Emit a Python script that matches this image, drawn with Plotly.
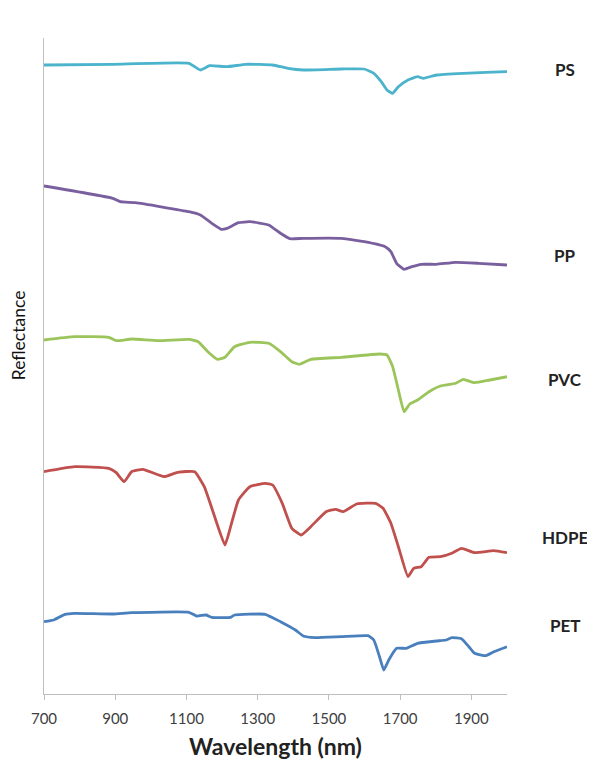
import plotly.graph_objects as go

# Wavelength (nm) and reflectance (arbitrary, offset units)
ps_nm = [700, 893, 1107, 1139, 1165, 1214, 1267, 1342, 1385, 1428, 1535, 1599, 1626, 1647,
         1663, 1679, 1695, 1722, 1749, 1765, 1802, 1877, 1941, 2000]
ps_r = [629, 629.7, 630.7, 624, 628.3, 627.3, 629.7, 629, 625.7, 624, 625, 625, 620.7, 612.3,
        604, 600.7, 607.3, 614, 617.3, 615.7, 619, 620.7, 621.7, 622.3]

pp_nm = [700, 893, 914, 957, 1107, 1139, 1171, 1198, 1214, 1246, 1278, 1331, 1364, 1390,
         1428, 1535, 1599, 1658, 1674, 1690, 1711, 1733, 1759, 1802, 1856, 1920, 2000]
pp_r = [508, 495.7, 492.3, 491.3, 482.3, 479, 470.7, 464.7, 465.7, 471.3, 472.3, 469, 460.7,
        455.3, 455.7, 455.7, 452.3, 447.3, 442.3, 430.7, 424.7, 427.3, 429.7, 429.7, 431.7,
        430.7, 429]

pvc_nm = [700, 786, 882, 903, 946, 1021, 1107, 1133, 1160, 1187, 1208, 1235, 1278, 1331,
          1364, 1396, 1417, 1449, 1535, 1642, 1663, 1679, 1695, 1711, 1727, 1749, 1781,
          1813, 1856, 1877, 1909, 1952, 2000]
pvc_r = [354, 357.3, 356.7, 353.3, 355, 353.3, 354.7, 352.3, 342.3, 334.7, 336.7, 347.3,
         351.7, 350.7, 342.3, 332.3, 329.7, 334.7, 336.7, 340, 339, 327.3, 304, 282.3, 290,
         294, 302.3, 308, 310.7, 314.7, 311.3, 314, 317.3]

hdpe_nm = [700, 786, 882, 903, 925, 946, 978, 1037, 1075, 1123, 1150, 1176, 1208, 1224,
           1246, 1278, 1321, 1342, 1369, 1396, 1422, 1449, 1492, 1519, 1540, 1578, 1631,
           1652, 1674, 1695, 1722, 1738, 1759, 1781, 1813, 1845, 1872, 1909, 1963, 2000]
hdpe_r = [222.3, 227.3, 225.7, 221.3, 212.3, 222.3, 224.7, 217.3, 221.7, 222.3, 207.3, 180.7,
          149, 167.3, 194, 207.3, 210.7, 209, 190.7, 165.7, 159, 167.3, 182.3, 184.7, 182.3,
          190, 190.7, 185.7, 170.7, 147.3, 117.3, 125.7, 127.3, 136.7, 137.3, 140.7, 145.7,
          141.3, 143.3, 141.3]

pet_nm = [700, 727, 759, 786, 893, 946, 1107, 1128, 1155, 1171, 1224, 1235, 1321, 1364,
          1406, 1428, 1460, 1535, 1610, 1626, 1642, 1654, 1668, 1690, 1717, 1749, 1802,
          1829, 1845, 1872, 1893, 1909, 1941, 1963, 2000]
pet_r = [72.3, 74, 79.7, 80.7, 80, 81.3, 81.7, 78, 79, 76.7, 76.7, 79, 79.7, 72.3, 64, 58,
         56.3, 57.3, 58.3, 54, 37.3, 24, 34, 45.7, 45.7, 50.7, 53, 54, 56.3, 55.3, 47.3,
         40.7, 38.3, 42.3, 47.3]

series = [
    ("PS", ps_nm, ps_r, "#4bb3cc"),
    ("PP", pp_nm, pp_r, "#7a5f9e"),
    ("PVC", pvc_nm, pvc_r, "#9bc45a"),
    ("HDPE", hdpe_nm, hdpe_r, "#c0504d"),
    ("PET", pet_nm, pet_r, "#4a7fbd"),
]
label_y = [625, 439, 315, 157, 69]

tick_vals = [700, 900, 1100, 1300, 1500, 1700, 1900]
tick_text = ["700", "900", "1100", "1300", "1500", "1700", "1900"]

FONT = "Lato"

fig = go.Figure()
for (name, xs, ys, col) in series:
    fig.add_trace(go.Scatter(x=xs, y=ys, mode="lines", name=name,
                             line=dict(color=col, width=2.8, shape="spline", smoothing=0.4),
                             showlegend=False))

for (name, _, _, _), ly in zip(series, label_y):
    fig.add_annotation(x=1.126, xref="paper", y=ly, yref="y", text="<b>%s</b>" % name,
                       showarrow=False, xanchor="center", yanchor="middle",
                       font=dict(family=FONT, size=17, color="#222222"))

fig.add_annotation(x=-0.056, xref="paper", y=0.547, yref="paper", text="Reflectance",
                   textangle=-90, showarrow=False, xanchor="center", yanchor="middle",
                   font=dict(family=FONT, size=17.5, color="#111111"))

fig.update_layout(
    width=595, height=766,
    margin=dict(l=36, r=96, t=30, b=80),
    paper_bgcolor="white", plot_bgcolor="white",
    font=dict(family=FONT, color="#404040"),
    xaxis=dict(range=[700, 2000], tickvals=tick_vals, ticktext=tick_text,
               ticks="outside", ticklen=5, tickcolor="#bfbfbf", ticklabelstandoff=6,
               showline=True, linecolor="#bfbfbf", linewidth=1, showgrid=False,
               zeroline=False, tickfont=dict(size=15, color="#404040"),
               title=dict(text="<b>Wavelength (nm)</b>", standoff=12,
                          font=dict(size=23, color="#222222"))),
    yaxis=dict(range=[0, 656], showticklabels=False, ticks="", showline=True,
               linecolor="#bfbfbf", linewidth=1, showgrid=False, zeroline=False),
)

fig.write_html("out.html")
